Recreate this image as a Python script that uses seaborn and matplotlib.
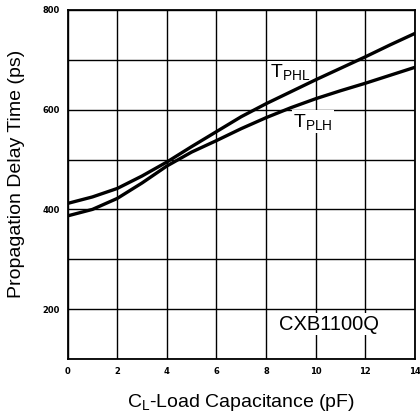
import matplotlib
matplotlib.use("Agg")
import matplotlib.pyplot as plt
import seaborn as sns
import pandas as pd

# Data
cap_pf = [0, 1, 2, 3, 4, 5, 6, 7, 8, 9, 10, 11, 12, 13, 14]
t_phl = [412, 425, 442, 467, 495, 526, 556, 586, 612, 636, 660, 683, 706, 730, 753]
t_plh = [387, 400, 422, 453, 487, 515, 538, 562, 584, 604, 622, 638, 653, 669, 685]
x_ticks = [0, 2, 4, 6, 8, 10, 12, 14]
y_ticks = [200, 400, 600, 800]

sns.set_theme(style="white")
plt.rcParams['font.family'] = ['Liberation Sans', 'DejaVu Sans']
plt.rcParams['mathtext.default'] = 'regular'
plt.rcParams['text.color'] = 'black'
plt.rcParams['axes.labelcolor'] = 'black'
plt.rcParams['xtick.color'] = 'black'
plt.rcParams['ytick.color'] = 'black'

df = pd.concat([
    pd.DataFrame({"C": cap_pf, "T": t_phl, "s": "PHL"}),
    pd.DataFrame({"C": cap_pf, "T": t_plh, "s": "PLH"}),
])

fig = plt.figure(figsize=(4.2, 4.15), dpi=100)
ax = fig.add_axes([0.161, 0.135, 0.827, 0.841])

ax.set_xlim(0, 14)
ax.set_ylim(100, 800)
for gx in range(0, 15, 2):
    ax.axvline(gx, color="black", lw=1.0, zorder=1)
for gy in range(100, 801, 100):
    ax.axhline(gy, color="black", lw=1.0, zorder=1)

sns.lineplot(data=df, x="C", y="T", units="s", estimator=None, color="black",
             lw=2.4, ax=ax, zorder=3)

ax.set_xticks(x_ticks)
ax.set_yticks(y_ticks)
tick_font = dict(family="DejaVu Sans", fontsize=6, fontweight="bold")
ax.set_xticklabels([str(v) for v in x_ticks], **tick_font)
ax.set_yticklabels([str(v) for v in y_ticks], **tick_font)
ax.tick_params(axis="x", length=0, pad=5.5)
ax.tick_params(axis="y", length=0, pad=5.5)
for sp in ax.spines.values():
    sp.set_color("black")
    sp.set_linewidth(1.3)

ax.set_xlabel(r"C$_{L}$-Load Capacitance (pF)", fontsize=14, labelpad=12)
ax.set_ylabel("Propagation Delay Time (ps)", fontsize=14)
ax.yaxis.set_label_coords(-0.123, 0.53)

box = dict(facecolor="white", edgecolor="none", pad=1)
ax.text(8.15, 675, r"T$_{PHL}$", fontsize=14, ha="left", va="center", bbox=box, zorder=2)
ax.text(9.1, 576, r"T$_{PLH}$", fontsize=14, ha="left", va="center", bbox=box, zorder=2)
ax.text(8.5, 170, "CXB1100Q", fontsize=14.5, ha="left", va="center", bbox=box, zorder=2)

fig.savefig("out.png", dpi=100, facecolor="white")
